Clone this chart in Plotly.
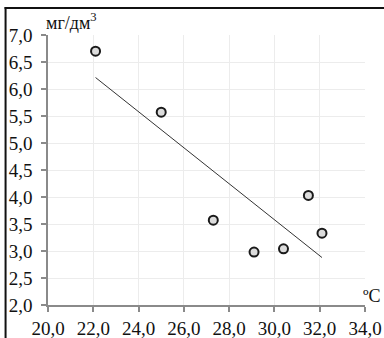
import numpy as np
import plotly.graph_objects as go

# data
temp_c = [22.1, 25.0, 27.3, 29.1, 30.4, 31.5, 32.1]
conc_mg = [6.70, 5.57, 3.57, 2.98, 3.04, 4.03, 3.33]
x_ticks = [20, 22, 24, 26, 28, 30, 32, 34]
y_ticks = [2.0, 2.5, 3.0, 3.5, 4.0, 4.5, 5.0, 5.5, 6.0, 6.5, 7.0]
y_title = "мг/дм<sup>3</sup>"
x_title = "ºC"

# linear trend from the data
slope, intercept = np.polyfit(temp_c, conc_mg, 1)
trend_x = [min(temp_c), max(temp_c)]
trend_y = [slope * v + intercept for v in trend_x]

W, H = 384, 338
L, R, T, B = 47.5, 19, 35, 33
pw, ph = W - L - R, H - T - B

def px2paper_x(px):
    return (px - L) / pw

def px2paper_y(py):
    return (H - B - py) / ph

font = "Liberation Serif, Times New Roman, serif"

fig = go.Figure()
fig.add_trace(go.Scatter(x=trend_x, y=trend_y, mode="lines",
                         line=dict(color="#333333", width=1), hoverinfo="skip"))
fig.add_trace(go.Scatter(x=temp_c, y=conc_mg, mode="markers",
                         marker=dict(size=9, color="#dcdcdc",
                                     line=dict(color="#1a1a1a", width=2))))

axis_common = dict(showgrid=True, gridcolor="#ececec", gridwidth=1,
                   showline=True, linecolor="#8a8a8a", linewidth=1.5,
                   ticks="outside", ticklen=5, tickcolor="#8a8a8a", tickwidth=1.5,
                   tickfont=dict(family=font, size=19, color="#111111"),
                   zeroline=False, tickformat=".1f", automargin=False)

fig.update_xaxes(range=[20, 34], tickvals=x_ticks, **axis_common)
fig.update_yaxes(range=[2, 7], tickvals=y_ticks, ticklabelstandoff=5, **axis_common)

fig.update_layout(
    width=W, height=H, showlegend=False,
    margin=dict(l=L, r=R, t=T, b=B, pad=0, autoexpand=False),
    paper_bgcolor="white", plot_bgcolor="white",
    separators=", ",
    font=dict(family=font, color="#111111"),
    annotations=[
        dict(text=y_title, xref="paper", yref="paper", x=px2paper_x(43), y=px2paper_y(21),
             xanchor="left", yanchor="middle", showarrow=False,
             font=dict(family=font, size=18, color="#111111")),
        dict(text=x_title, xref="paper", yref="paper", x=px2paper_x(372), y=px2paper_y(296),
             xanchor="center", yanchor="middle", showarrow=False,
             font=dict(family=font, size=18, color="#111111")),
    ],
    shapes=[
        dict(type="line", xref="paper", yref="paper", layer="above",
             x0=px2paper_x(5), x1=px2paper_x(5), y0=px2paper_y(7), y1=px2paper_y(340),
             line=dict(color="#111111", width=2)),
        dict(type="line", xref="paper", yref="paper", layer="above",
             x0=px2paper_x(4), x1=px2paper_x(386), y0=px2paper_y(8), y1=px2paper_y(8),
             line=dict(color="#111111", width=2)),
    ],
)

fig.write_html("out.html", config={"displayModeBar": False},
               post_script="document.body.style.margin='0';document.body.style.overflow='hidden';")
